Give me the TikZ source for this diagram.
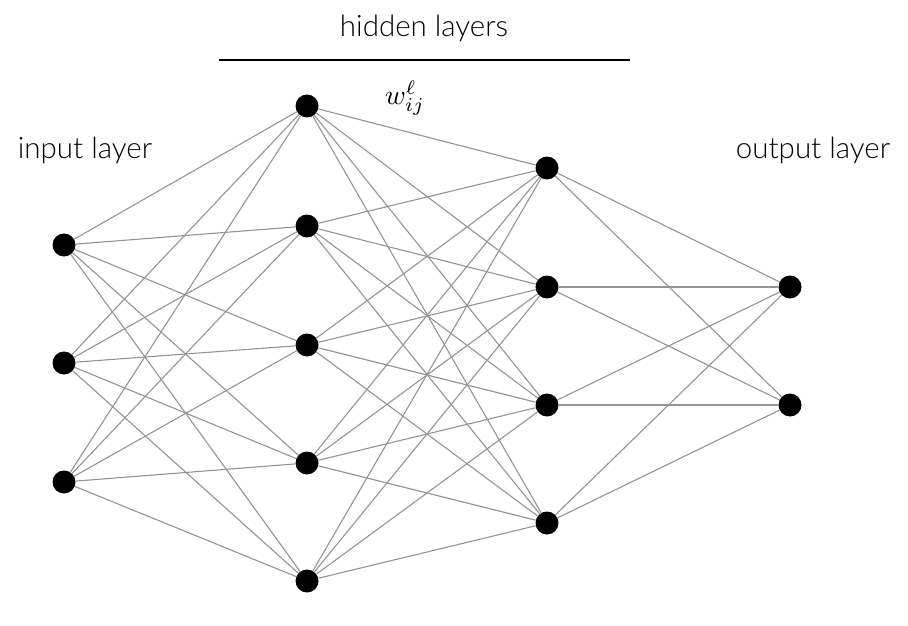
\documentclass[tikz,border=0pt]{standalone}
\usepackage{fontspec}
\setmainfont{Lato}[UprightFont=* Light]
\begin{document}
\begin{tikzpicture}[x=1pt,y=-1pt,
  neuron/.style={circle,fill=black,minimum size=23pt,inner sep=0pt},
  edge/.style={draw=black!42,line width=1.1pt},
  lbl/.style={font=\fontsize{29.5}{32}\selectfont,inner sep=0pt}]
\useasboundingbox (0,0) rectangle (908,626);
\foreach \i/\y in {1/245,2/363,3/482} \node[neuron] (i\i) at (64,\y) {};
\foreach \i/\y in {1/106,2/226,3/345,4/463,5/581} \node[neuron] (a\i) at (307,\y) {};
\foreach \i/\y in {1/168,2/287,3/405,4/523} \node[neuron] (b\i) at (547,\y) {};
\foreach \i/\y in {1/287,2/405} \node[neuron] (o\i) at (790,\y) {};
\foreach \i in {1,2,3} \foreach \j in {1,...,5} \draw[edge] (i\i) -- (a\j);
\foreach \i in {1,...,5} \foreach \j in {1,...,4} \draw[edge] (a\i) -- (b\j);
\foreach \i in {1,...,4} \foreach \j in {1,2} \draw[edge] (b\i) -- (o\j);
\node[lbl] (th) at (424,28) {hidden layers};
\coordinate (l1) at (219,60);
\coordinate (l2) at (630,60);
\draw[line width=2.4pt] (l1) -- (l2);
\node[lbl] (tin) at (85,150) {input layer};
\node[lbl] (tout) at (813,150) {output layer};
\node[inner sep=0pt,scale=2.8] (w) at (405,98) {$w_{ij}^{\ell}$};
\end{tikzpicture}
\end{document}
